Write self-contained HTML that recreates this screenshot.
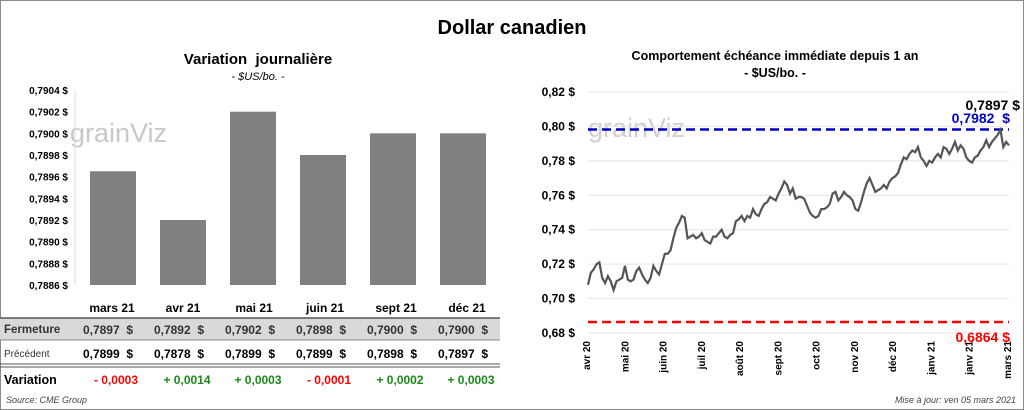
<!DOCTYPE html>
<html><head><meta charset="utf-8"><style>
body{margin:0;width:1024px;height:410px;overflow:hidden;background:#fff;font-family:"Liberation Sans",sans-serif}
#frame{position:absolute;left:0;top:0;width:1022px;height:408px;border:1px solid #8a8a8a}
text{white-space:pre}
</style></head><body>
<div id="frame"></div>
<svg width="1024" height="410" style="position:absolute;left:0;top:0" font-family="Liberation Sans, sans-serif" id="svg">
<text x="512" y="34" text-anchor="middle" font-size="20" font-weight="bold">Dollar canadien</text>
<text x="258" y="64" text-anchor="middle" font-size="15" font-weight="bold">Variation  journalière</text>
<text x="258" y="80" text-anchor="middle" font-size="11" font-style="italic">- $US/bo. -</text>
<text x="775" y="60" text-anchor="middle" font-size="12.5" font-weight="bold">Comportement échéance immédiate depuis 1 an</text>
<text x="775" y="77" text-anchor="middle" font-size="12.5" font-weight="bold">- $US/bo. -</text>
<text x="70" y="142" font-size="27" fill="#c8c8c8">grainViz</text>
<text x="588" y="137" font-size="27" fill="#d0d0d0">grainViz</text>
<g id="left"></g><g id="right"></g><g id="table"></g>
<text x="6" y="403" font-size="9" font-style="italic" fill="#444">Source: CME Group</text>
<text x="1016" y="403" text-anchor="end" font-size="9" font-style="italic" fill="#444">Mise à jour: ven 05 mars 2021</text>
</svg>
<script>
const NS="http://www.w3.org/2000/svg";
function mk(p,t,a,txt){const e=document.createElementNS(NS,t);for(const k in a)e.setAttribute(k,a[k]);if(txt!=null)e.textContent=txt;p.appendChild(e);return e;}
const months=["mars 21","avr 21","mai 21","juin 21","sept 21","déc 21"];
const closeVals=[0.78965,0.7892,0.7902,0.7898,0.7900,0.7900];
const closeTxt=["0,7897","0,7892","0,7902","0,7898","0,7900","0,7900"];
const prevTxt=["0,7899","0,7878","0,7899","0,7899","0,7898","0,7897"];
const varTxt=["- 0,0003","+ 0,0014","+ 0,0003","- 0,0001","+ 0,0002","+ 0,0003"];
const leftTicks=[0.7886,0.7888,0.7890,0.7892,0.7894,0.7896,0.7898,0.7900,0.7902,0.7904];
const lineVals=[0.708,0.715,0.717,0.720,0.721,0.712,0.709,0.713,0.710,0.705,0.710,0.711,0.712,0.719,0.711,0.710,0.711,0.716,0.718,0.714,0.711,0.709,0.712,0.719,0.716,0.714,0.720,0.726,0.726,0.728,0.735,0.741,0.744,0.748,0.747,0.735,0.736,0.737,0.735,0.736,0.738,0.734,0.733,0.732,0.736,0.736,0.738,0.740,0.736,0.735,0.737,0.738,0.745,0.746,0.748,0.745,0.748,0.747,0.752,0.749,0.748,0.752,0.755,0.756,0.759,0.758,0.757,0.761,0.764,0.768,0.766,0.761,0.764,0.758,0.759,0.759,0.758,0.754,0.750,0.748,0.747,0.748,0.752,0.752,0.753,0.755,0.761,0.762,0.757,0.759,0.762,0.760,0.759,0.757,0.752,0.751,0.756,0.762,0.767,0.770,0.766,0.762,0.763,0.764,0.766,0.764,0.768,0.770,0.771,0.773,0.778,0.782,0.781,0.784,0.786,0.785,0.788,0.782,0.780,0.777,0.780,0.779,0.782,0.784,0.782,0.788,0.787,0.784,0.787,0.791,0.786,0.789,0.787,0.782,0.780,0.779,0.782,0.783,0.786,0.788,0.792,0.788,0.791,0.793,0.795,0.798,0.788,0.791,0.789];
const rightTicks=[0.68,0.70,0.72,0.74,0.76,0.78,0.80,0.82];
const dateLabels=["avr 20","mai 20","juin 20","juil 20","août 20","sept 20","oct 20","nov 20","déc 20","janv 21","janv 21","mars 21"];
const highVal=0.7982, lowVal=0.6864, lastTxt="0,7897 $";
const fmt=(v,d)=>v.toFixed(d).replace('.',',')+" $";

const L=document.getElementById('left');
const ly=v=>285-(v-0.7886)/0.0018*195;
const lx=i=>113+i*70;
leftTicks.forEach(t=>{const e=mk(L,'text',{x:68,y:ly(t)+4,'text-anchor':'end','font-size':10,'font-weight':'bold'},fmt(t,4));
});
mk(L,'line',{x1:75,x2:75,y1:ly(0.7904),y2:285,stroke:'#ddd'});
closeVals.forEach((v,i)=>{const r=mk(L,'rect',{x:lx(i)-23,y:ly(v),width:46,height:285-ly(v),fill:'#808080'});
});

const T=document.getElementById('table');
const cx=i=>112+i*71;
mk(T,'rect',{x:0,y:318,width:500,height:22,fill:'#d9d9d9'});
mk(T,'line',{x1:0,x2:500,y1:318,y2:318,stroke:'#555',"stroke-width":1.5});
mk(T,'line',{x1:0,x2:500,y1:340,y2:340,stroke:'#888'});
mk(T,'line',{x1:0,x2:500,y1:364,y2:364,stroke:'#555'});
mk(T,'line',{x1:0,x2:500,y1:367,y2:367,stroke:'#555'});
mk(T,'text',{x:4,y:333,'font-size':11.5,'font-weight':'bold',fill:'#333'},'Fermeture');
mk(T,'text',{x:4,y:357,'font-size':10,fill:'#333'},'Précédent');
mk(T,'text',{x:4,y:384,'font-size':12.5,'font-weight':'bold'},'Variation');
months.forEach((m,i)=>{
 let e=mk(T,'text',{x:cx(i),y:312,'text-anchor':'middle','font-size':12,'font-weight':'bold'},m);
 
 e=mk(T,'text',{x:cx(i)+21,y:334,'text-anchor':'end','font-size':12,'font-weight':'bold',fill:'#333'},closeTxt[i]+"  $");
 
 e=mk(T,'text',{x:cx(i)+21,y:358,'text-anchor':'end','font-size':12,'font-weight':'bold'},prevTxt[i]+"  $");
 
 e=mk(T,'text',{x:cx(i)+4,y:384,'text-anchor':'middle','font-size':12,'font-weight':'bold',fill:varTxt[i][0]=='-'?'#ff0000':'#1a8a1a'},varTxt[i]);
 
});

const R=document.getElementById('right');
const ry=v=>333-(v-0.68)/0.14*241;
const x0=588,x1=1009;
const rx=i=>x0+i*(x1-x0)/(lineVals.length-1);
rightTicks.forEach(t=>{mk(R,'line',{x1:x0,x2:x1,y1:ry(t),y2:ry(t),stroke:'#e4e4e4'});
const e=mk(R,'text',{x:575,y:ry(t)+4,'text-anchor':'end','font-size':12,'font-weight':'bold'},fmt(t,2));
});
dateLabels.forEach((d,i)=>{const x=x0+4+i*(x1-x0)/(dateLabels.length-1)-2;
const e=mk(R,'text',{x:0,y:0,transform:`translate(${x},341) rotate(-90)`,'text-anchor':'end','font-size':10,'font-weight':'bold'},d);
});
let hl=mk(R,'line',{x1:x0,x2:x1,y1:ry(highVal),y2:ry(highVal),stroke:'#0000c0','stroke-width':2.5,'stroke-dasharray':'9,5'});

let ll=mk(R,'line',{x1:x0,x2:x1,y1:ry(lowVal),y2:ry(lowVal),stroke:'#ff0000','stroke-width':2.5,'stroke-dasharray':'9,5'});

const p=mk(R,'polyline',{points:lineVals.map((v,i)=>rx(i)+','+ry(v)).join(' '),fill:'none',stroke:'#555','stroke-width':2.2});

let t1=mk(R,'text',{x:1020,y:110,'text-anchor':'end','font-size':14,'font-weight':'bold'},lastTxt);

let t2=mk(R,'text',{x:1010,y:123,'text-anchor':'end','font-size':14,'font-weight':'bold',fill:'#0000c0'},fmt(highVal,4).replace(' $','  $'));

let t3=mk(R,'text',{x:1010,y:342,'text-anchor':'end','font-size':14,'font-weight':'bold',fill:'#ff0000'},fmt(lowVal,4));

</script>
</body></html>
